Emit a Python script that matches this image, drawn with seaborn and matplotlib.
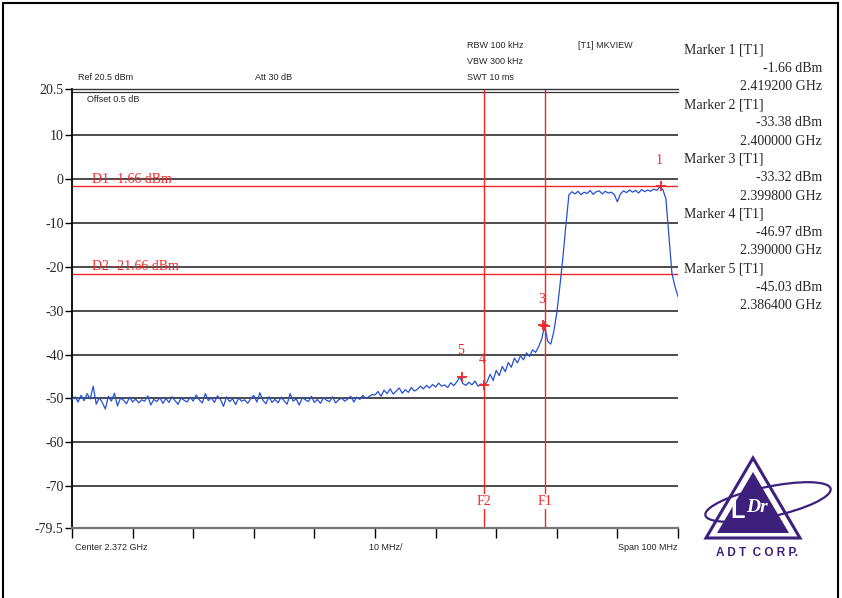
import numpy as np
import pandas as pd
import matplotlib
matplotlib.use("Agg")
import matplotlib.pyplot as plt
import seaborn as sns
from matplotlib.patches import Polygon, Ellipse, Rectangle

# sweep settings (spectrum analyser screen)
center_ghz = 2.372
span_ghz = 0.100

# trace level, 201 sweep points (dBm)
level_dbm = [
    -50.2, -49.6, -50.8, -49.3, -50.5, -48.9, -50.1, -47.2, -51.3, -49.8,
    -50.9, -52.4, -49.5, -50.6, -48.8, -51.7, -49.9, -50.4, -51.2, -49.7,
    -50.8, -50.1, -51.0, -50.3, -50.6, -49.4, -51.5, -50.2, -50.7, -49.8,
    -51.1, -50.0, -50.9, -49.6, -50.5, -51.3, -49.9, -50.4, -50.8, -49.7,
    -50.6, -49.2, -50.3, -51.0, -48.9, -50.5, -49.8, -50.9, -49.4, -50.2,
    -51.8, -49.6, -50.7, -50.1, -51.4, -49.9, -50.6, -50.3, -51.1, -50.0,
    -49.3, -50.8, -48.7, -50.4, -51.2, -49.6, -50.9, -50.2, -51.0, -49.7,
    -50.5, -51.3, -48.9, -50.6, -50.1, -51.5, -49.8, -50.3, -50.7, -49.5,
    -50.9, -50.2, -51.1, -49.8, -50.4, -50.7, -49.6, -51.0, -50.3, -49.9,
    -50.6, -50.1, -49.5, -50.8, -49.7, -50.2, -49.3, -50.0, -49.6, -49.1,
    -49.2, -48.4, -49.5, -48.1, -48.9, -47.8, -49.0, -48.3, -47.6, -48.8,
    -48.0, -48.6, -47.5, -48.3, -47.9, -47.2, -47.8, -47.0, -47.6, -46.8,
    -47.4, -46.5, -47.2, -46.9, -47.5, -46.4, -47.1, -46.2, -45.1, -46.6,
    -47.0, -46.3, -46.9, -46.0, -47.2, -46.7, -47.0, -46.2, -44.5, -45.9,
    -43.6, -44.8, -42.7, -43.9, -41.8, -42.9, -40.8, -41.9, -40.3, -41.2,
    -39.6, -40.4, -38.9, -39.5, -38.2, -36.5, -33.4, -37.0, -37.6, -34.8,
    -30.5, -24.5, -18.0, -10.5, -3.6, -2.9, -3.4, -2.8, -3.6, -3.0,
    -3.3, -2.6, -3.5, -2.9, -2.7, -3.4, -2.8, -3.2, -3.0, -3.6,
    -5.2, -3.4, -2.7, -3.1, -2.5, -3.0, -2.6, -3.2, -2.4, -2.9,
    -2.5, -2.8, -2.3, -2.6, -1.8, -2.4, -4.5, -13.0, -21.5, -24.5,
    -26.8,
]

marker_ids = ["1", "2", "3", "4", "5"]
marker_freq = [2.4192, 2.4000, 2.3998, 2.3900, 2.3864]
marker_level = [-1.66, -33.38, -33.32, -46.97, -45.03]
marker_shown = ["1", "3", "4", "5"]

d_names = ["D1", "D2"]
d_levels = [-1.66, -21.66]
f_names = ["F1", "F2"]
f_freqs = [2.400, 2.390]

ytick_vals = [20.5, 10, 0, -10, -20, -30, -40, -50, -60, -70, -79.5]
ytick_text = ["20.5", "10", "0", "-10", "-20", "-30", "-40", "-50", "-60", "-70", "-79.5"]

freq_ghz = np.linspace(center_ghz - span_ghz / 2, center_ghz + span_ghz / 2, len(level_dbm))
df = pd.DataFrame({"freq": freq_ghz, "level": level_dbm})
mk = pd.DataFrame({"id": marker_ids, "freq": marker_freq, "level": marker_level})

sns.set_style("white")
serif = ["Liberation Serif", "DejaVu Serif"]
sans = ["Liberation Sans", "DejaVu Sans"]
RED = "#f02828"
PURPLE = "#3d1f7c"

W, H = 842, 598
fig = plt.figure(figsize=(W / 100, H / 100), dpi=100)


def px(x, y):
    return x / W, 1 - y / H


ax = fig.add_axes([72 / W, 1 - 528 / H, 606 / W, 439 / H])
ax.set_xlim(center_ghz - span_ghz / 2, center_ghz + span_ghz / 2)
ax.set_ylim(-79.5, 20.5)

for v in ytick_vals[1:-1]:
    ax.axhline(v, color="#1a1a1a", lw=1.1, zorder=1)
# double line at the top of the screen
ax.plot([0, 1], [0.994, 0.994], transform=ax.transAxes, color="#333333", lw=0.9, clip_on=False)

for n, v in zip(d_names, d_levels):
    ax.axhline(v, color=RED, lw=1.0, zorder=2)
    ax.annotate(f"{n} {v:.2f} dBm", xy=(0.033, v), xycoords=("axes fraction", "data"),
                xytext=(0, 0.5), textcoords="offset points", va="bottom", ha="left",
                color=RED, fontsize=10, family=serif)
for n, f in zip(f_names, f_freqs):
    ax.axvline(f, color=RED, lw=1.0, zorder=2)
    ax.text(f, 0.06, n, transform=ax.get_xaxis_transform(), ha="center", va="center",
            color=RED, fontsize=10, family=serif, zorder=4,
            bbox=dict(facecolor="white", edgecolor="none", pad=0.5))

sns.lineplot(data=df, x="freq", y="level", ax=ax, color="#2450d6", lw=0.9, zorder=3)
sns.scatterplot(data=mk, x="freq", y="level", ax=ax, marker="+", s=60, color=RED,
                linewidth=1.3, zorder=5)
for _, r in mk.iterrows():
    if r["id"] in marker_shown:
        ax.annotate(r["id"], xy=(r["freq"], r["level"]), xytext=(-1, 14),
                    textcoords="offset points", ha="center", va="bottom",
                    color=RED, fontsize=10, family=serif, zorder=6)

ax.set_xlabel("")
ax.set_ylabel("")
ax.set_yticks(ytick_vals)
ax.set_yticklabels(ytick_text, family=serif, fontsize=10)
ax.set_xticks(np.linspace(center_ghz - span_ghz / 2, center_ghz + span_ghz / 2, 11))
ax.set_xticklabels([])
ax.tick_params(axis="y", direction="out", length=5, width=1, color="black", pad=1)
ax.tick_params(axis="x", direction="out", length=7, width=1, color="black")
ax.tick_params(left=True, bottom=True)
for s in ["right"]:
    ax.spines[s].set_visible(False)
ax.spines["left"].set_color("black")
ax.spines["left"].set_linewidth(1.3)
ax.spines["top"].set_color("#333333")
ax.spines["top"].set_linewidth(1.0)
ax.spines["bottom"].set_color("#777777")
ax.spines["bottom"].set_linewidth(1.6)
ax.grid(False)

# header and footer annotations
small = dict(fontsize=6.5, family=sans, va="center")
fig.text(*px(467, 45), "RBW 100 kHz", ha="left", **small)
fig.text(*px(467, 62), "VBW 300 kHz", ha="left", **small)
fig.text(*px(467, 78), "SWT 10 ms", ha="left", **small)
fig.text(*px(578, 45), "[T1] MKVIEW", ha="left", **small)
fig.text(*px(78, 78), "Ref 20.5 dBm", ha="left", **small)
fig.text(*px(255, 78), "Att 30 dB", ha="left", **small)
fig.text(*px(87, 99), "Offset 0.5 dB", ha="left", **small)
fig.text(*px(75, 547), "Center 2.372 GHz", ha="left", **small)
fig.text(*px(369, 547), "10 MHz/", ha="left", **small)
fig.text(*px(677, 547), "Span 100 MHz", ha="right", **small)

# marker table on the right
y0 = 50
for i in range(len(marker_ids)):
    fig.text(*px(684, y0), f"Marker {marker_ids[i]} [T1]", ha="left", va="center",
             fontsize=10, family=serif)
    fig.text(*px(822, y0 + 18.3), f"{marker_level[i]:.2f} dBm", ha="right", va="center",
             fontsize=10, family=serif)
    fig.text(*px(822, y0 + 36.6), f"{marker_freq[i]:.6f} GHz", ha="right", va="center",
             fontsize=10, family=serif)
    y0 += 54.7

# ADT logo
lg = fig.add_axes([700 / W, 1 - 565 / H, 140 / W, 115 / H])
lg.set_xlim(0, 140)
lg.set_ylim(115, 0)
lg.axis("off")
lg.add_patch(Polygon([(53, 8), (6, 88), (100, 88)], closed=True, fill=False,
                     edgecolor=PURPLE, lw=2.2))
lg.add_patch(Polygon([(53, 22), (17, 83), (89, 83)], closed=True, facecolor=PURPLE,
                     edgecolor="none"))
lg.add_patch(Ellipse((68, 52), 128, 30, angle=-12, fill=False, edgecolor=PURPLE, lw=1.6))
lg.text(38, 62, "L", color="white", fontsize=17, fontweight="bold", family=sans,
        ha="center", va="center")
lg.text(57, 58, "Dr", color="white", fontsize=14, fontweight="bold", style="italic",
        family=serif, ha="center", va="center")
lg.text(57, 103, "A D T  C O R P.", color=PURPLE, fontsize=8.5, fontweight="bold",
        family=sans, ha="center", va="center")

# outer frame of the scanned page
fig.patches.append(Rectangle((3 / W, -0.02), 835 / W, 1 - 3 / H + 0.02,
                             transform=fig.transFigure, fill=False,
                             edgecolor="black", lw=1.5))

fig.savefig("out.png", dpi=100)
